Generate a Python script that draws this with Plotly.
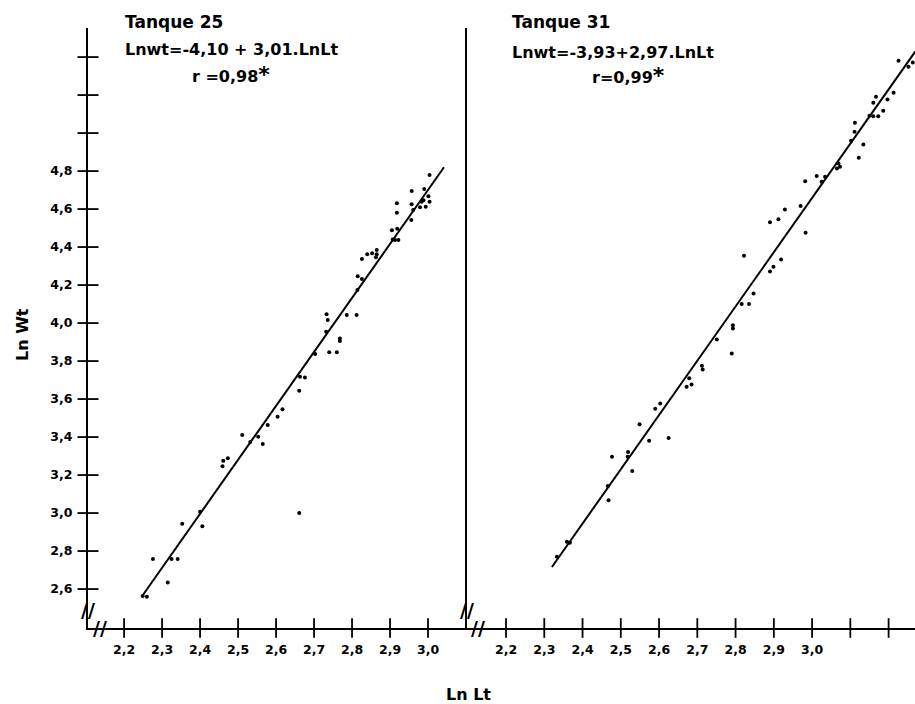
import plotly.graph_objects as go

# ---------------- data ----------------
t25_lnlt = [3.004, 2.957, 2.990, 3.001, 2.988, 2.983, 3.004, 2.994, 2.979, 2.957,
            2.961, 2.956, 2.918, 2.918, 2.905, 2.919, 2.907, 2.913, 2.922, 2.865,
            2.853, 2.840, 2.865, 2.863, 2.826, 2.815, 2.826, 2.814, 2.733, 2.736,
            2.786, 2.812, 2.732, 2.768, 2.768, 2.740, 2.760, 2.703, 2.663, 2.676,
            2.661, 2.617, 2.604, 2.578, 2.553, 2.565, 2.532, 2.511, 2.473, 2.461,
            2.459, 2.400, 2.406, 2.353, 2.276, 2.325, 2.341, 2.315, 2.249, 2.260,
            2.661]
t25_lnwt = [4.779, 4.695, 4.705, 4.668, 4.647, 4.638, 4.638, 4.612, 4.609, 4.625,
            4.595, 4.542, 4.630, 4.581, 4.489, 4.496, 4.440, 4.437, 4.437, 4.384,
            4.367, 4.362, 4.362, 4.346, 4.337, 4.247, 4.232, 4.174, 4.046, 4.016,
            4.042, 4.042, 3.954, 3.919, 3.905, 3.846, 3.846, 3.837, 3.717, 3.714,
            3.644, 3.547, 3.507, 3.463, 3.402, 3.363, 3.374, 3.411, 3.288, 3.275,
            3.247, 3.007, 2.930, 2.944, 2.758, 2.758, 2.758, 2.635, 2.563, 2.560,
            3.000]

t31_lnlt = [3.226, 3.252, 3.263, 3.213, 3.197, 3.167, 3.160, 3.186, 3.150, 3.160,
            3.173, 3.112, 3.111, 3.102, 3.134, 3.122, 3.069, 3.073, 3.065, 3.034,
            3.012, 3.025, 2.982, 2.983, 2.970, 2.929, 2.912, 2.890, 2.822, 2.919,
            2.899, 2.890, 2.847, 2.835, 2.816, 2.793, 2.793, 2.790, 2.751, 2.712,
            2.714, 2.679, 2.685, 2.672, 2.603, 2.590, 2.549, 2.625, 2.574, 2.519,
            2.518, 2.530, 2.477, 2.466, 2.468, 2.367, 2.359, 2.333]
t31_lnwt = [5.381, 5.349, 5.372, 5.212, 5.177, 5.191, 5.160, 5.117, 5.091, 5.089,
            5.089, 5.054, 5.007, 4.959, 4.940, 4.870, 4.840, 4.823, 4.814, 4.770,
            4.774, 4.744, 4.747, 4.475, 4.616, 4.598, 4.547, 4.530, 4.354, 4.335,
            4.296, 4.272, 4.156, 4.100, 4.100, 3.989, 3.972, 3.840, 3.914, 3.775,
            3.756, 3.709, 3.677, 3.665, 3.577, 3.549, 3.467, 3.395, 3.381, 3.321,
            3.296, 3.221, 3.296, 3.142, 3.068, 2.844, 2.849, 2.770]

# fitted lines as drawn (end points)
t25_fit_x = [2.25, 3.042]
t25_fit_y = [2.57, 4.82]
t31_fit_x = [2.32, 3.27]
t31_fit_y = [2.716, 5.43]

# tick marks
x_marks_left = [2.2, 2.3, 2.4, 2.5, 2.6, 2.7, 2.8, 2.9, 3.0]
x_marks_right = [2.2, 2.3, 2.4, 2.5, 2.6, 2.7, 2.8, 2.9, 3.0, 3.1, 3.2]
y_marks = [2.6, 2.8, 3.0, 3.2, 3.4, 3.6, 3.8, 4.0, 4.2, 4.4, 4.6, 4.8, 5.0, 5.2, 5.4]
# labelled ticks
x_label_vals = [2.2, 2.3, 2.4, 2.5, 2.6, 2.7, 2.8, 2.9, 3.0]
x_labels = ["2,2", "2,3", "2,4", "2,5", "2,6", "2,7", "2,8", "2,9", "3,0"]
y_label_vals = [2.6, 2.8, 3.0, 3.2, 3.4, 3.6, 3.8, 4.0, 4.2, 4.4, 4.6, 4.8]
y_labels = ["2,6", "2,8", "3,0", "3,2", "3,4", "3,6", "3,8", "4,0", "4,2", "4,4",
            "4,6", "4,8"]

title_left = ["Tanque 25", "Lnwt=-4,10 + 3,01.LnLt", "r =0,98"]
title_right = ["Tanque 31", "Lnwt=-3,93+2,97.LnLt", "r=0,99"]
star = "*"
x_title = "Ln Lt"
y_title = "Ln Wt"

# ---------------- figure ----------------
FONT = "DejaVu Sans"
W, H = 915, 704
ML, MR, MT, MB = 88, 0, 28, 76
split = (467 - ML) / (W - ML - MR)

xr_left = [2.105, 3.1026]
xr_right = [2.098, 3.269]
yr = [2.395, 5.553]

fig = go.Figure()

dot = dict(color="black", size=4)
fig.add_trace(go.Scatter(x=t25_lnlt, y=t25_lnwt, mode="markers", marker=dot,
                         xaxis="x", yaxis="y", cliponaxis=False))
fig.add_trace(go.Scatter(x=t25_fit_x, y=t25_fit_y, mode="lines",
                         line=dict(color="black", width=2), xaxis="x", yaxis="y"))
fig.add_trace(go.Scatter(x=t31_lnlt, y=t31_lnwt, mode="markers", marker=dot,
                         xaxis="x2", yaxis="y2", cliponaxis=False))
fig.add_trace(go.Scatter(x=t31_fit_x, y=t31_fit_y, mode="lines",
                         line=dict(color="black", width=2), xaxis="x2", yaxis="y2"))

# crossing tick marks (centred on the axis lines)
vtick = dict(symbol="line-ns", size=14, line=dict(width=1.8, color="black"))
htick = dict(symbol="line-ew", size=15, line=dict(width=1.8, color="black"))
fig.add_trace(go.Scatter(x=x_marks_left, y=[yr[0]] * len(x_marks_left), mode="markers",
                         marker=vtick, xaxis="x", yaxis="y", cliponaxis=False,
                         hoverinfo="skip"))
fig.add_trace(go.Scatter(x=x_marks_right, y=[yr[0]] * len(x_marks_right), mode="markers",
                         marker=vtick, xaxis="x2", yaxis="y2", cliponaxis=False,
                         hoverinfo="skip"))
fig.add_trace(go.Scatter(x=[xr_left[0]] * len(y_marks), y=y_marks, mode="markers",
                         marker=htick, xaxis="x", yaxis="y", cliponaxis=False,
                         hoverinfo="skip"))

tickfont = dict(family=FONT, size=12.5, color="black", weight="bold")
axis_common = dict(showgrid=False, zeroline=False, linecolor="black", linewidth=2,
                   tickfont=tickfont, fixedrange=True)

fig.update_layout(
    width=W, height=H,
    margin=dict(l=ML, r=MR, t=MT, b=MB),
    paper_bgcolor="white", plot_bgcolor="white",
    showlegend=False,
    xaxis=dict(domain=[0, split], range=xr_left, anchor="y", showline=True,
               ticks="outside", ticklen=7, tickcolor="rgba(0,0,0,0)",
               tickmode="array", tickvals=x_label_vals,
               ticktext=x_labels, ticklabelstandoff=2, **axis_common),
    yaxis=dict(domain=[0, 1], range=yr, anchor="x", showline=True,
               ticks="outside", ticklen=7, tickcolor="rgba(0,0,0,0)",
               tickmode="array", tickvals=y_label_vals,
               ticktext=y_labels, ticklabelstandoff=4, **axis_common),
    xaxis2=dict(domain=[split, 1], range=xr_right, anchor="y2", showline=True,
                ticks="outside", ticklen=7, tickcolor="rgba(0,0,0,0)",
                tickmode="array", tickvals=x_label_vals,
                ticktext=x_labels, ticklabelstandoff=2, **axis_common),
    yaxis2=dict(domain=[0, 1], range=yr, anchor="x2", showline=True,
                ticks="", showticklabels=False, **axis_common),
)

PW = W - ML - MR
PH = H - MT - MB


def px(xp):
    return (xp - ML) / PW


def py(yp):
    return (H - MB - yp) / PH


big = dict(family=FONT, size=17, color="black", weight="bold")
mid = dict(family=FONT, size=16, color="black", weight="bold")
starfmt = "<span style='font-size:22px'>%s</span>" % star
ann = []
# panel headers
left_pos = [(123, 22, big), (123, 50, mid), (190, 74, mid)]
right_pos = [(510, 22, big), (510, 52, mid), (590, 75, mid)]
for i, (xl, yl, f) in enumerate(left_pos):
    t = title_left[i] + (starfmt if i == 2 else "")
    ann.append(dict(text=t, x=px(xl), y=py(yl), xref="paper", yref="paper",
                    xanchor="left", yanchor="middle", showarrow=False, font=f))
for i, (xl, yl, f) in enumerate(right_pos):
    t = title_right[i] + (starfmt if i == 2 else "")
    ann.append(dict(text=t, x=px(xl), y=py(yl), xref="paper", yref="paper",
                    xanchor="left", yanchor="middle", showarrow=False, font=f))
# axis titles
ann.append(dict(text=x_title, x=px(468), y=py(694), xref="paper", yref="paper",
                xanchor="center", yanchor="middle", showarrow=False,
                font=dict(family=FONT, size=16, color="black", weight="bold")))
ann.append(dict(text=y_title, x=px(22), y=py(335), xref="paper", yref="paper",
                xanchor="center", yanchor="middle", textangle=-90, showarrow=False,
                font=dict(family=FONT, size=16, color="black", weight="bold")))
# axis break marks
brk = dict(family=FONT, size=19, color="black", weight="bold")
ann.append(dict(text="//", x=2.137, y=0, xref="x", yref="y domain", showarrow=False,
                font=brk, xanchor="center", yanchor="middle"))
ann.append(dict(text="//", x=0, y=2.49, xref="x domain", yref="y", showarrow=False,
                font=brk, xanchor="center", yanchor="middle"))
ann.append(dict(text="//", x=2.127, y=0, xref="x2", yref="y2 domain", showarrow=False,
                font=brk, xanchor="center", yanchor="middle"))
ann.append(dict(text="//", x=0, y=2.49, xref="x2 domain", yref="y2", showarrow=False,
                font=brk, xanchor="center", yanchor="middle"))
fig.update_layout(annotations=ann)

fig.write_html("out.html")
